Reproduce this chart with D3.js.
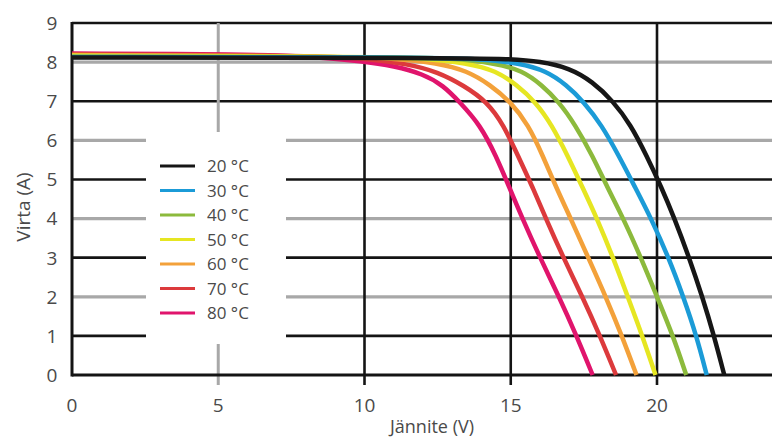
<!DOCTYPE html>
<html>
<head>
<meta charset="utf-8">
<script src="https://cdn.jsdelivr.net/npm/d3@7"></script>
<style>
  body { margin: 0; background: #fff; }
  text { font-family: "Open Sans", "DejaVu Sans", sans-serif; fill: #4a4a4a; }
</style>
</head>
<body>
<svg id="chart" width="772" height="441"></svg>
<script>
// temperatures and their I-V curves, [voltage V, current A]
var temps = ["20 °C", "30 °C", "40 °C", "50 °C", "60 °C", "70 °C", "80 °C"];
var colors = ["#161616", "#1b9bd7", "#8cba3c", "#e6e622", "#f3a13a", "#dc3a3c", "#e0146c"];

var iv20 = [[0,8.12],[13,8.11],[15,8.08],[16,8.02],[17,7.85],[17.8,7.5],[18.5,7.0],[19.1,6.4],[19.65,5.6],[20.15,4.8],[20.6,4.0],[21.1,3.0],[21.55,2.0],[21.95,1.0],[22.3,0]];
var iv30 = [[0,8.13],[12,8.12],[14,8.08],[15.3,7.97],[16.2,7.78],[16.9,7.42],[17.5,6.98],[18.1,6.4],[18.7,5.6],[19.25,4.8],[19.8,4.0],[20.4,3.0],[20.9,2.0],[21.35,1.0],[21.7,0]];
var iv40 = [[0,8.14],[11,8.13],[13,8.1],[14.5,7.97],[15.4,7.78],[16.05,7.42],[16.65,6.98],[17.2,6.4],[17.8,5.6],[18.3,4.8],[18.85,4.0],[19.45,3.0],[20.0,2.0],[20.55,1.0],[21.0,0]];
var iv50 = [[0,8.16],[10,8.14],[12,8.1],[13.5,7.98],[14.5,7.78],[15.2,7.42],[15.85,6.98],[16.4,6.4],[16.95,5.6],[17.45,4.8],[17.95,4.0],[18.5,3.0],[19.0,2.0],[19.5,1.0],[19.95,0]];
var iv60 = [[0,8.18],[9,8.15],[11,8.1],[12.5,7.98],[13.5,7.78],[14.3,7.42],[15.0,6.98],[15.6,6.4],[16.1,5.6],[16.55,4.8],[17.05,4.0],[17.65,3.0],[18.25,2.0],[18.8,1.0],[19.3,0]];
var iv70 = [[0,8.2],[8,8.17],[10,8.1],[11.5,7.95],[12.5,7.75],[13.4,7.4],[14.2,6.98],[14.75,6.4],[15.25,5.6],[15.75,4.8],[16.2,4.0],[16.8,3.0],[17.45,2.0],[18.05,1.0],[18.6,0]];
var iv80 = [[0,8.22],[6,8.2],[8,8.15],[10,8.02],[11,7.9],[12,7.7],[12.7,7.4],[13.25,6.98],[13.95,6.4],[14.5,5.6],[14.95,4.8],[15.4,4.0],[16.0,3.0],[16.65,2.0],[17.25,1.0],[17.8,0]];
var curves = [iv20, iv30, iv40, iv50, iv60, iv70, iv80];

var xTicks = [0, 5, 10, 15, 20];
var yTicks = [0, 1, 2, 3, 4, 5, 6, 7, 8, 9];

var svg = d3.select("#chart");
var x = d3.scaleLinear().domain([0, 24]).range([72, 774]);
var y = d3.scaleLinear().domain([0, 9]).range([375, 23]);
var color = d3.scaleOrdinal().domain(temps).range(colors);

// horizontal grid, odd values black, even grey
svg.selectAll(".hgrid")
  .data(yTicks.filter(d => d > 0))
  .enter().append("line")
  .attr("x1", x(0)).attr("x2", 772)
  .attr("y1", d => y(d)).attr("y2", d => y(d))
  .attr("stroke", d => d % 2 ? "#141414" : "#a8a8a8")
  .attr("stroke-width", d => d % 2 ? 2.6 : 3.2);

// vertical grid
svg.selectAll(".vgrid")
  .data(xTicks.filter(d => d > 0))
  .enter().append("line")
  .attr("x1", d => x(d)).attr("x2", d => x(d))
  .attr("y1", y(9)).attr("y2", y(0) + 10)
  .attr("stroke", d => d == 5 ? "#a8a8a8" : "#141414")
  .attr("stroke-width", d => d == 5 ? 3 : 2.6);

// axes lines
svg.append("line")
  .attr("x1", x(0)).attr("x2", x(0)).attr("y1", y(9) - 1).attr("y2", y(0) + 1.5)
  .attr("stroke", "#141414").attr("stroke-width", 3);
svg.append("line")
  .attr("x1", x(0)).attr("x2", 772).attr("y1", y(0)).attr("y2", y(0))
  .attr("stroke", "#141414").attr("stroke-width", 3);

// legend box hides the grid behind it
svg.append("rect")
  .attr("x", 146).attr("y", 132).attr("width", 140).attr("height", 212)
  .attr("fill", "#fff");

var line = d3.line()
  .x(d => x(d[0]))
  .y(d => y(d[1]))
  .curve(d3.curveBasis);

// hottest first so the 20 °C curve is on top
svg.selectAll(".iv")
  .data(d3.range(curves.length).reverse())
  .enter().append("path")
  .attr("d", i => line(curves[i]))
  .attr("fill", "none")
  .attr("stroke", i => color(temps[i]))
  .attr("stroke-width", 4.5)
  .attr("stroke-linejoin", "round");

// legend
var legY = d3.scalePoint().domain(temps).range([166, 313]);
var leg = svg.selectAll(".leg")
  .data(temps)
  .enter().append("g")
  .attr("transform", d => "translate(0," + legY(d) + ")");
leg.append("line")
  .attr("x1", 160).attr("x2", 195)
  .attr("stroke", d => color(d))
  .attr("stroke-width", 3);
leg.append("text")
  .attr("x", 207).attr("dy", "0.36em")
  .attr("font-size", 17)
  .text(d => d);

// tick labels
svg.selectAll(".ylab")
  .data(yTicks)
  .enter().append("text")
  .attr("x", 52).attr("y", d => y(d)).attr("dy", "0.36em")
  .attr("text-anchor", "middle")
  .attr("font-size", 19)
  .text(d => d);

svg.selectAll(".xlab")
  .data(xTicks)
  .enter().append("text")
  .attr("x", d => x(d)).attr("y", 405).attr("dy", "0.36em")
  .attr("text-anchor", "middle")
  .attr("font-size", 19)
  .text(d => d);

// axis titles
svg.append("text")
  .attr("x", 432).attr("y", 427).attr("dy", "0.36em")
  .attr("text-anchor", "middle")
  .attr("font-size", 18)
  .text("Jännite (V)");

svg.append("text")
  .attr("transform", "translate(23,207) rotate(-90)")
  .attr("dy", "0.36em")
  .attr("text-anchor", "middle")
  .attr("font-size", 19)
  .text("Virta (A)");
</script>
</body>
</html>
